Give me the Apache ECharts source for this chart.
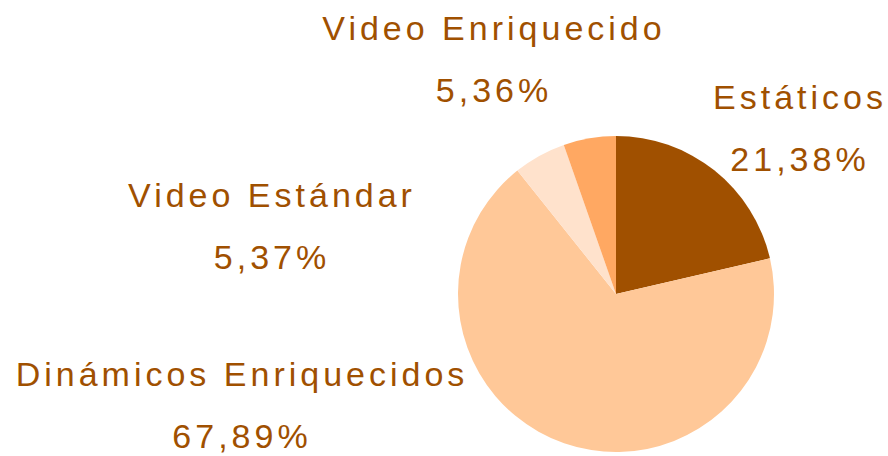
<!DOCTYPE html>
<html>
<head>
<meta charset="utf-8">
<script src="https://cdn.jsdelivr.net/npm/echarts@6/dist/echarts.min.js"></script>
<style>
  html, body { margin: 0; padding: 0; background: #ffffff; }
  #chart { width: 888px; height: 456px; }
  /* labels in the original are widely spaced */
  #chart text { letter-spacing: 4px; }
</style>
</head>
<body>
<div id="chart"></div>
<script>
// slices, clockwise from 12 o'clock
var categories = ["Estáticos", "Dinámicos Enriquecidos", "Video Estándar", "Video Enriquecido"];
var shares = [21.38, 67.89, 5.37, 5.36];

var sliceColors = ["#A05000", "#FFC898", "#FFE2CC", "#FFA862"];
// where each label block sits (centre of the two lines)
var labelSpots = [[800, 128], [242, 405], [272, 226], [494, 59]];

var chart = echarts.init(document.getElementById("chart"), null, { renderer: "svg" });

var data = categories.map(function (name, i) {
  return { name: name, value: shares[i], itemStyle: { color: sliceColors[i] } };
});

var option = {
  animation: false,
  series: [
    {
      type: "pie",
      center: [616, 294],
      radius: 158,
      startAngle: 90,
      clockwise: true,
      data: data,
      itemStyle: { borderWidth: 0 },
      label: {
        show: true,
        color: "#A05000",
        fontFamily: "Liberation Sans, Arial, sans-serif",
        fontSize: 34,
        lineHeight: 62,
        align: "center",
        overflow: "none",
        formatter: function (p) {
          return p.name + "\n" + p.value.toFixed(2).replace(".", ",") + "%";
        }
      },
      labelLine: { show: false },
      labelLayout: function (params) {
        var s = labelSpots[params.dataIndex];
        return { x: s[0], y: s[1], align: "center", verticalAlign: "middle" };
      }
    }
  ]
};

chart.setOption(option);
</script>
</body>
</html>
